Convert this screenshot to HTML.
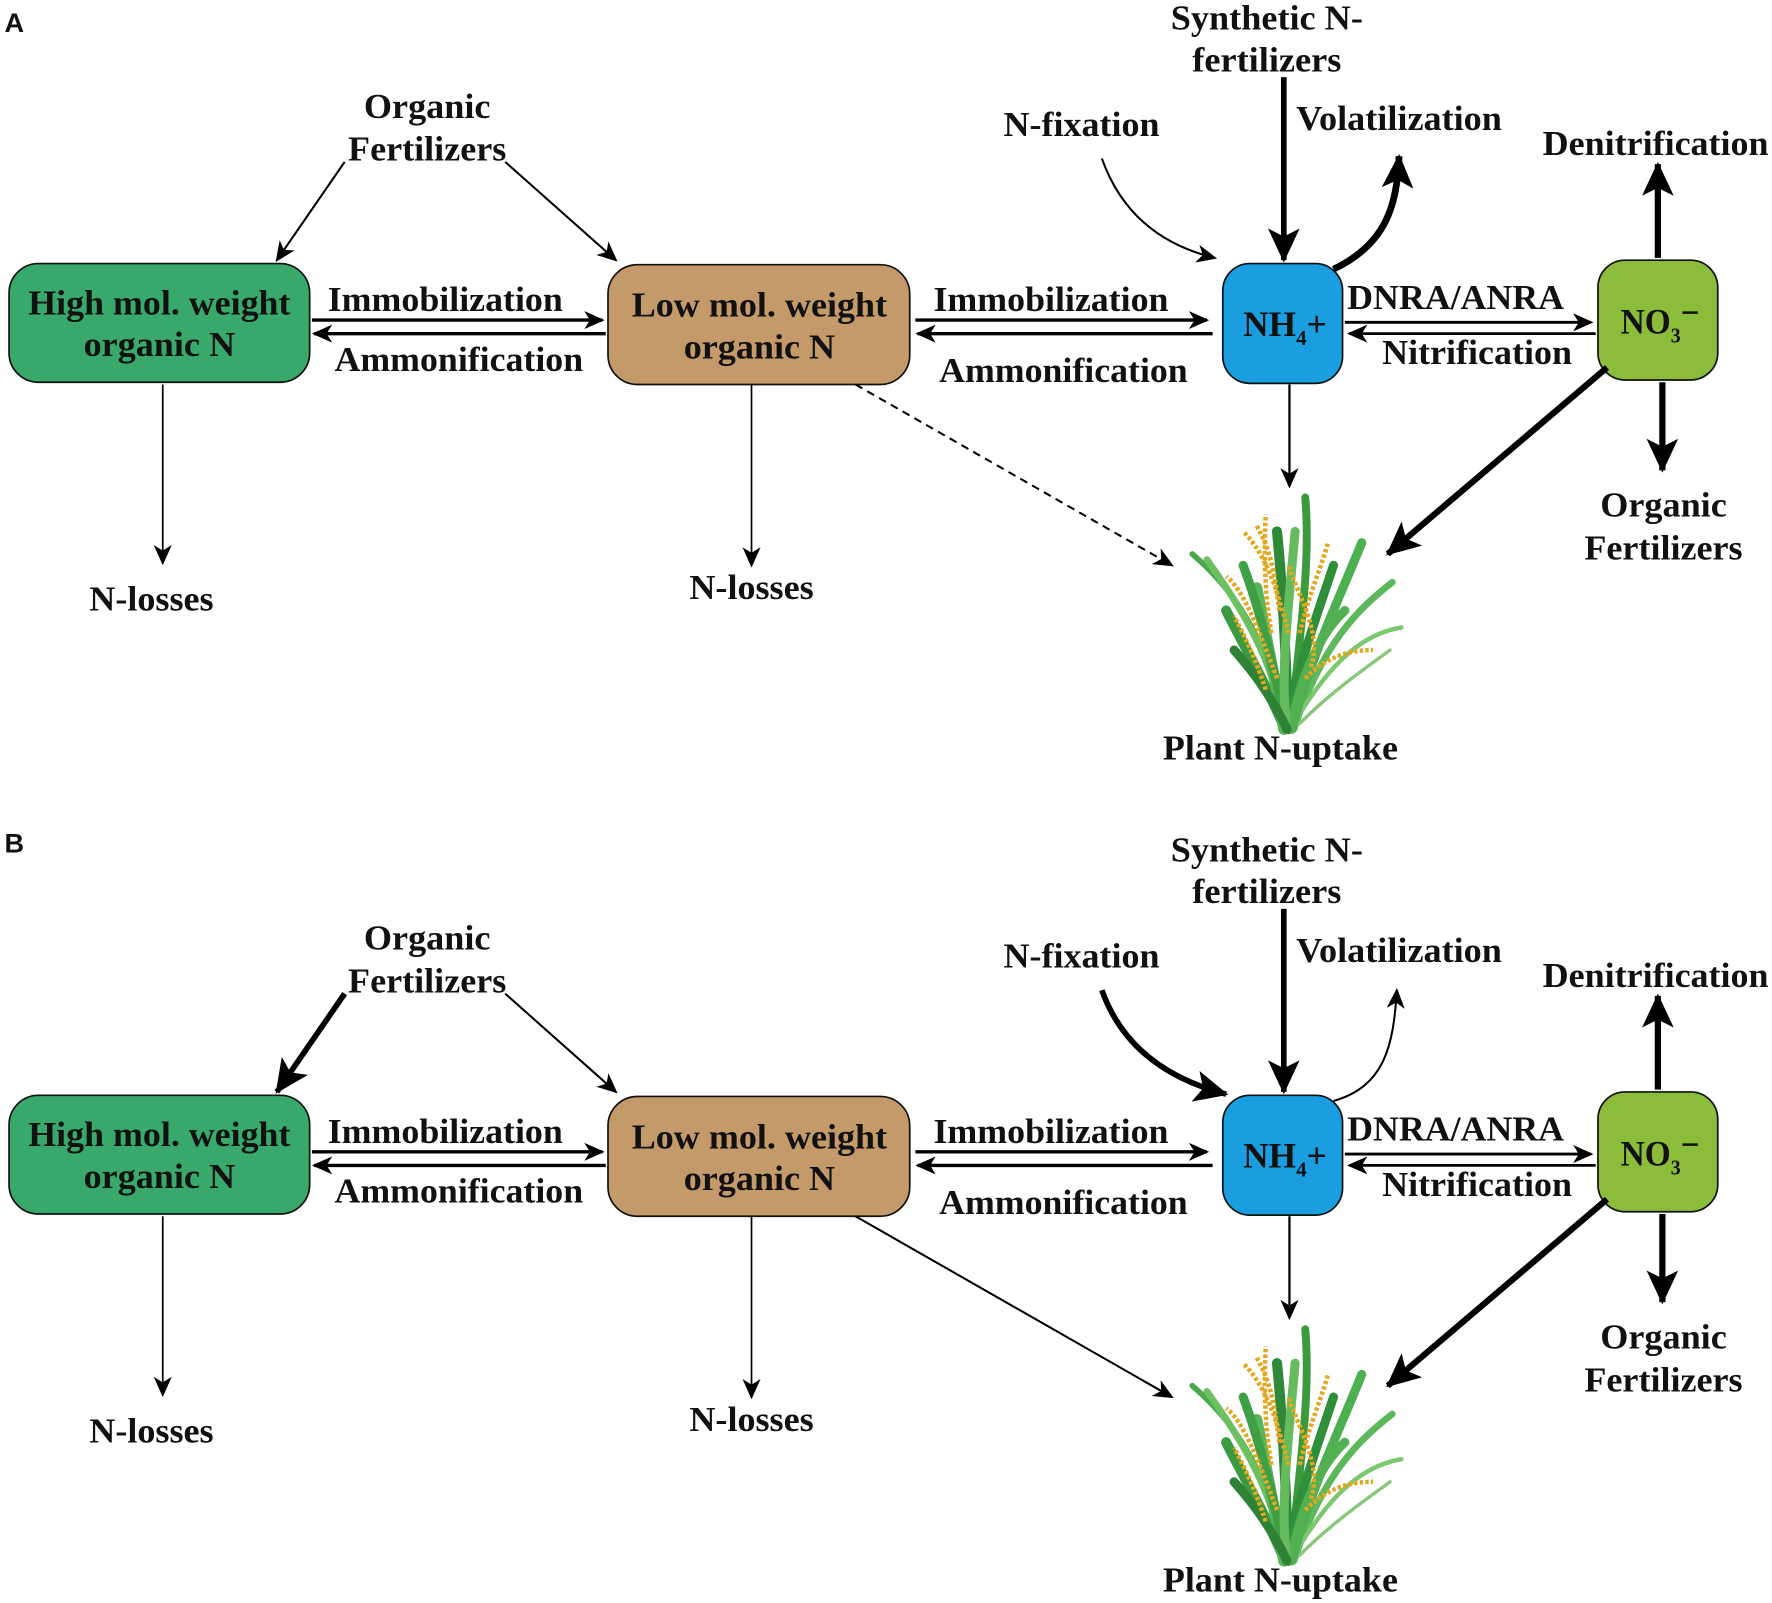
<!DOCTYPE html>
<html><head><meta charset="utf-8"><style>
html,body{margin:0;padding:0;background:#fff;}
svg{display:block;}
text{font-family:"Liberation Serif","Times New Roman",serif;font-weight:bold;fill:#111;}
</style></head><body>
<svg width="1772" height="1603" viewBox="0 0 1568 1418" xmlns="http://www.w3.org/2000/svg">
<defs>
<marker id="a" markerUnits="userSpaceOnUse" markerWidth="20" markerHeight="20" refX="16" refY="8" orient="auto"><path d="M0,0 L18,8 L0,16 L5,8 Z" fill="#000"/></marker>
<marker id="A" markerUnits="userSpaceOnUse" markerWidth="34" markerHeight="34" refX="28" refY="14" orient="auto"><path d="M0,0 L30,14 L0,28 L7,14 Z" fill="#000"/></marker>
<g id="plant">
 <g fill="none" stroke-linecap="round">
  <path d="M1140,645 C1120,560 1090,520 1055,490" stroke="#4aa84a" stroke-width="5"/>
  <path d="M1138,645 C1125,580 1100,540 1068,495" stroke="#6cc060" stroke-width="6"/>
  <path d="M1142,645 C1150,560 1160,500 1155,440" stroke="#3c9a3c" stroke-width="7"/>
  <path d="M1145,645 C1170,570 1200,540 1232,515" stroke="#5cb85a" stroke-width="6"/>
  <path d="M1145,640 C1180,580 1210,560 1240,555" stroke="#7cc870" stroke-width="4"/>
  <path d="M1140,645 C1138,580 1135,520 1130,470" stroke="#2e8a38" stroke-width="9"/>
  <path d="M1143,645 C1160,580 1185,530 1205,480" stroke="#4caf50" stroke-width="8"/>
  <path d="M1137,645 C1118,600 1100,570 1085,540" stroke="#3a9a40" stroke-width="9"/>
  <path d="M1150,640 C1180,610 1210,590 1230,575" stroke="#88c878" stroke-width="3"/>
  <path d="M1140,645 C1145,600 1160,560 1180,500" stroke="#2f8f3a" stroke-width="8"/>
  <path d="M1136,645 C1128,600 1120,560 1112,520" stroke="#5ab45a" stroke-width="10"/>
  <path d="M1138,645 C1130,600 1115,540 1100,500" stroke="#3f9f45" stroke-width="8"/>
  <path d="M1142,645 C1150,600 1168,560 1190,540" stroke="#52b052" stroke-width="8"/>
  <path d="M1139,645 C1132,600 1140,540 1146,470" stroke="#66bb5e" stroke-width="8"/>
  <path d="M1139,645 C1122,610 1105,590 1092,575" stroke="#2d8236" stroke-width="8"/>
 </g>
 <g fill="none" stroke="#e4a820" stroke-width="4" stroke-dasharray="3 2">
  <path d="M1140,560 C1130,520 1120,490 1100,470"/>
  <path d="M1130,600 C1115,560 1100,520 1085,510"/>
  <path d="M1150,560 C1160,520 1170,500 1175,480"/>
  <path d="M1155,600 C1175,580 1195,575 1215,575"/>
  <path d="M1125,560 C1120,530 1118,500 1120,455"/>
  <path d="M1160,590 C1170,560 1150,530 1140,500"/>
  <path d="M1120,610 C1110,580 1100,560 1092,545"/>
  <path d="M1132,540 C1128,510 1126,490 1112,465"/>
 </g>
</g>
<g id="common">
 <rect x="8" y="233" width="266" height="105" rx="26" fill="#39a96b" stroke="#111" stroke-width="1.5"/>
 <rect x="538" y="234" width="267" height="106" rx="26" fill="#c49a6b" stroke="#111" stroke-width="1.5"/>
 <rect x="1082" y="233" width="106" height="106" rx="24" fill="#1a9ee0" stroke="#111" stroke-width="1.5"/>
 <rect x="1414" y="230" width="106" height="106" rx="24" fill="#8bbd3a" stroke="#111" stroke-width="1.5"/>
 <g font-size="31" text-anchor="middle">
  <text x="141" y="278" textLength="232" lengthAdjust="spacingAndGlyphs">High mol. weight</text>
  <text x="141" y="315" textLength="134" lengthAdjust="spacingAndGlyphs">organic N</text>
  <text x="672" y="280" textLength="226" lengthAdjust="spacingAndGlyphs">Low mol. weight</text>
  <text x="672" y="317" textLength="134" lengthAdjust="spacingAndGlyphs">organic N</text>
  <text x="1137" y="297" font-size="32" textLength="74" lengthAdjust="spacingAndGlyphs">NH<tspan font-size="19" dy="8">4</tspan><tspan dy="-8">+</tspan></text>
  <text x="1469" y="295" font-size="32" textLength="70" lengthAdjust="spacingAndGlyphs">NO<tspan font-size="19" dy="8">3</tspan><tspan dy="-16">−</tspan></text>
  <text x="394" y="275" textLength="208" lengthAdjust="spacingAndGlyphs">Immobilization</text>
  <text x="406" y="328" textLength="220" lengthAdjust="spacingAndGlyphs">Ammonification</text>
  <text x="930" y="275" textLength="208" lengthAdjust="spacingAndGlyphs">Immobilization</text>
  <text x="941" y="338" textLength="220" lengthAdjust="spacingAndGlyphs">Ammonification</text>
  <text x="1288" y="273" textLength="192" lengthAdjust="spacingAndGlyphs">DNRA/ANRA</text>
  <text x="1307" y="322" textLength="168" lengthAdjust="spacingAndGlyphs">Nitrification</text>
  <text x="378" y="104" textLength="112" lengthAdjust="spacingAndGlyphs">Organic</text>
  <text x="378" y="142" textLength="140" lengthAdjust="spacingAndGlyphs">Fertilizers</text>
  <text x="134" y="540" textLength="110" lengthAdjust="spacingAndGlyphs">N-losses</text>
  <text x="665" y="530" textLength="110" lengthAdjust="spacingAndGlyphs">N-losses</text>
  <text x="1121" y="26" textLength="170" lengthAdjust="spacingAndGlyphs">Synthetic N-</text>
  <text x="1121" y="63" textLength="132" lengthAdjust="spacingAndGlyphs">fertilizers</text>
  <text x="1238" y="115" textLength="182" lengthAdjust="spacingAndGlyphs">Volatilization</text>
  <text x="957" y="120" textLength="138" lengthAdjust="spacingAndGlyphs">N-fixation</text>
  <text x="1465" y="137" textLength="200" lengthAdjust="spacingAndGlyphs">Denitrification</text>
  <text x="1472" y="457" textLength="112" lengthAdjust="spacingAndGlyphs">Organic</text>
  <text x="1472" y="495" textLength="140" lengthAdjust="spacingAndGlyphs">Fertilizers</text>
  <text x="1133" y="672" textLength="208" lengthAdjust="spacingAndGlyphs">Plant N-uptake</text>
 </g>
 <g stroke="#000" fill="none">
  <line x1="276" y1="283" x2="533" y2="283" stroke-width="3" marker-end="url(#a)"/>
  <line x1="536" y1="295" x2="278" y2="295" stroke-width="3" marker-end="url(#a)"/>
  <line x1="810" y1="283" x2="1068" y2="283" stroke-width="3" marker-end="url(#a)"/>
  <line x1="1073" y1="295" x2="812" y2="295" stroke-width="3" marker-end="url(#a)"/>
  <line x1="1190" y1="285" x2="1408" y2="285" stroke-width="2.5" marker-end="url(#a)"/>
  <line x1="1412" y1="295" x2="1194" y2="295" stroke-width="2.5" marker-end="url(#a)"/>
  <line x1="447" y1="143" x2="545" y2="230" stroke-width="1.8" marker-end="url(#a)"/>
  <line x1="144" y1="340" x2="144" y2="498" stroke-width="1.5" marker-end="url(#a)"/>
  <line x1="665" y1="340" x2="665" y2="500" stroke-width="1.5" marker-end="url(#a)"/>
  <line x1="1141" y1="340" x2="1141" y2="430" stroke-width="2" marker-end="url(#a)"/>
  <line x1="1422" y1="325" x2="1228" y2="490" stroke-width="5.5" marker-end="url(#A)"/>
  <line x1="1471" y1="338" x2="1471" y2="416" stroke-width="5.5" marker-end="url(#A)"/>
  <line x1="1467" y1="228" x2="1467" y2="145" stroke-width="5.5" marker-end="url(#A)"/>
  <line x1="1136" y1="68" x2="1136" y2="230" stroke-width="5" marker-end="url(#A)"/>
 </g>
 <use href="#plant"/>
</g>
</defs>

<!-- Panel A -->
<text x="4" y="28" style="font-family:'Liberation Sans',sans-serif" font-size="24">A</text>
<use href="#common"/>
<g stroke="#000" fill="none">
 <line x1="305" y1="143" x2="245" y2="230" stroke-width="1.8" marker-end="url(#a)"/>
 <path d="M975,140 Q1000,210 1075,228" stroke-width="1.8" marker-end="url(#a)"/>
 <path d="M1180,238 C1228,215 1236,180 1238,138" stroke-width="6" marker-end="url(#A)"/>
 <line x1="757" y1="340" x2="1037" y2="500" stroke-width="1.8" stroke-dasharray="7 5" marker-end="url(#a)"/>
</g>

<!-- Panel B -->
<g transform="translate(0,736)">
<text x="4" y="18" style="font-family:'Liberation Sans',sans-serif" font-size="24">B</text>
<use href="#common"/>
<g stroke="#000" fill="none">
 <line x1="305" y1="143" x2="245" y2="230" stroke-width="5" marker-end="url(#A)"/>
 <path d="M975,140 Q1000,210 1085,232" stroke-width="5" marker-end="url(#A)"/>
 <path d="M1180,238 C1225,225 1233,190 1236,140" stroke-width="1.8" marker-end="url(#a)"/>
 <line x1="757" y1="340" x2="1037" y2="500" stroke-width="1.8" marker-end="url(#a)"/>
</g>
</g>
</svg>
</body></html>
